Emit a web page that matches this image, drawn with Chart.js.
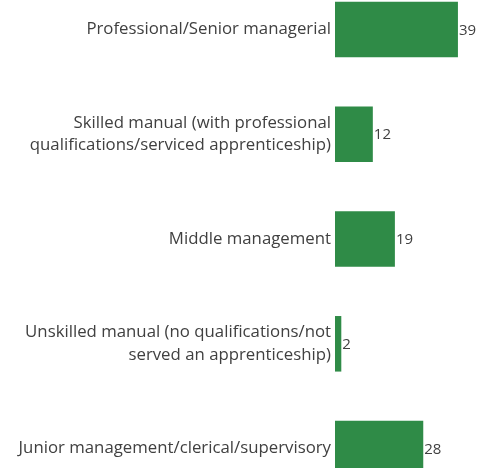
<!DOCTYPE html>
<html>
<head>
<meta charset="utf-8">
<script src="https://cdn.jsdelivr.net/npm/chart.js@4"></script>
<style>
  html, body { margin: 0; padding: 0; overflow: hidden; background: #fff; }
  body { width: 480px; height: 468px; position: relative; }
  #wrap { position: absolute; left: 0; top: -23px; width: 480px; height: 524px; }
</style>
</head>
<body>
<div id="wrap"><canvas id="occChart"></canvas></div>
<script>
const occupations = [
    'Professional/Senior managerial',
    ['Skilled manual (with professional', 'qualifications/serviced apprenticeship)'],
    'Middle management',
    ['Unskilled manual (no qualifications/not', 'served an apprenticeship)'],
    'Junior management/clerical/supervisory'
];
const counts = [39, 12, 19, 2, 28];

const textColor = '#404040';
const barGreen = '#2f8b47';

// value printed just past the end of each bar
const valueLabels = {
    id: 'valueLabels',
    afterDatasetsDraw(chart) {
        const ctx = chart.ctx;
        const meta = chart.getDatasetMeta(0);
        ctx.save();
        ctx.font = '15px "Open Sans"';
        ctx.fillStyle = textColor;
        ctx.textAlign = 'left';
        ctx.textBaseline = 'middle';
        meta.data.forEach((bar, i) => {
            ctx.fillText(counts[i], bar.x + 1, bar.y + 1);
        });
        ctx.restore();
    }
};

const ctx = document.getElementById('occChart').getContext('2d');
// eslint-disable-next-line no-undef
const occChart = new Chart(ctx, {
    type: 'bar',
    data: {
        labels: occupations,
        datasets: [{
            data: counts,
            backgroundColor: barGreen,
            borderWidth: 0,
            categoryPercentage: 1,
            barPercentage: 0.53
        }]
    },
    options: {
        indexAxis: 'y',
        responsive: true,
        maintainAspectRatio: false,
        animation: false,
        layout: { padding: 0 },
        plugins: {
            legend: { display: false },
            tooltip: { enabled: false }
        },
        scales: {
            x: {
                display: false,
                min: 0,
                max: 46
            },
            y: {
                grid: { display: false, drawTicks: false },
                border: { display: false },
                ticks: {
                    color: textColor,
                    font: { family: 'Open Sans', size: 16.8, lineHeight: 1.33 },
                    padding: 4
                },
                afterFit(scale) {
                    scale.width = 335;
                    // let the bands run to the canvas edges
                    scale.paddingTop = 0;
                    scale.paddingBottom = 0;
                }
            }
        }
    },
    plugins: [valueLabels]
});
</script>
</body>
</html>
